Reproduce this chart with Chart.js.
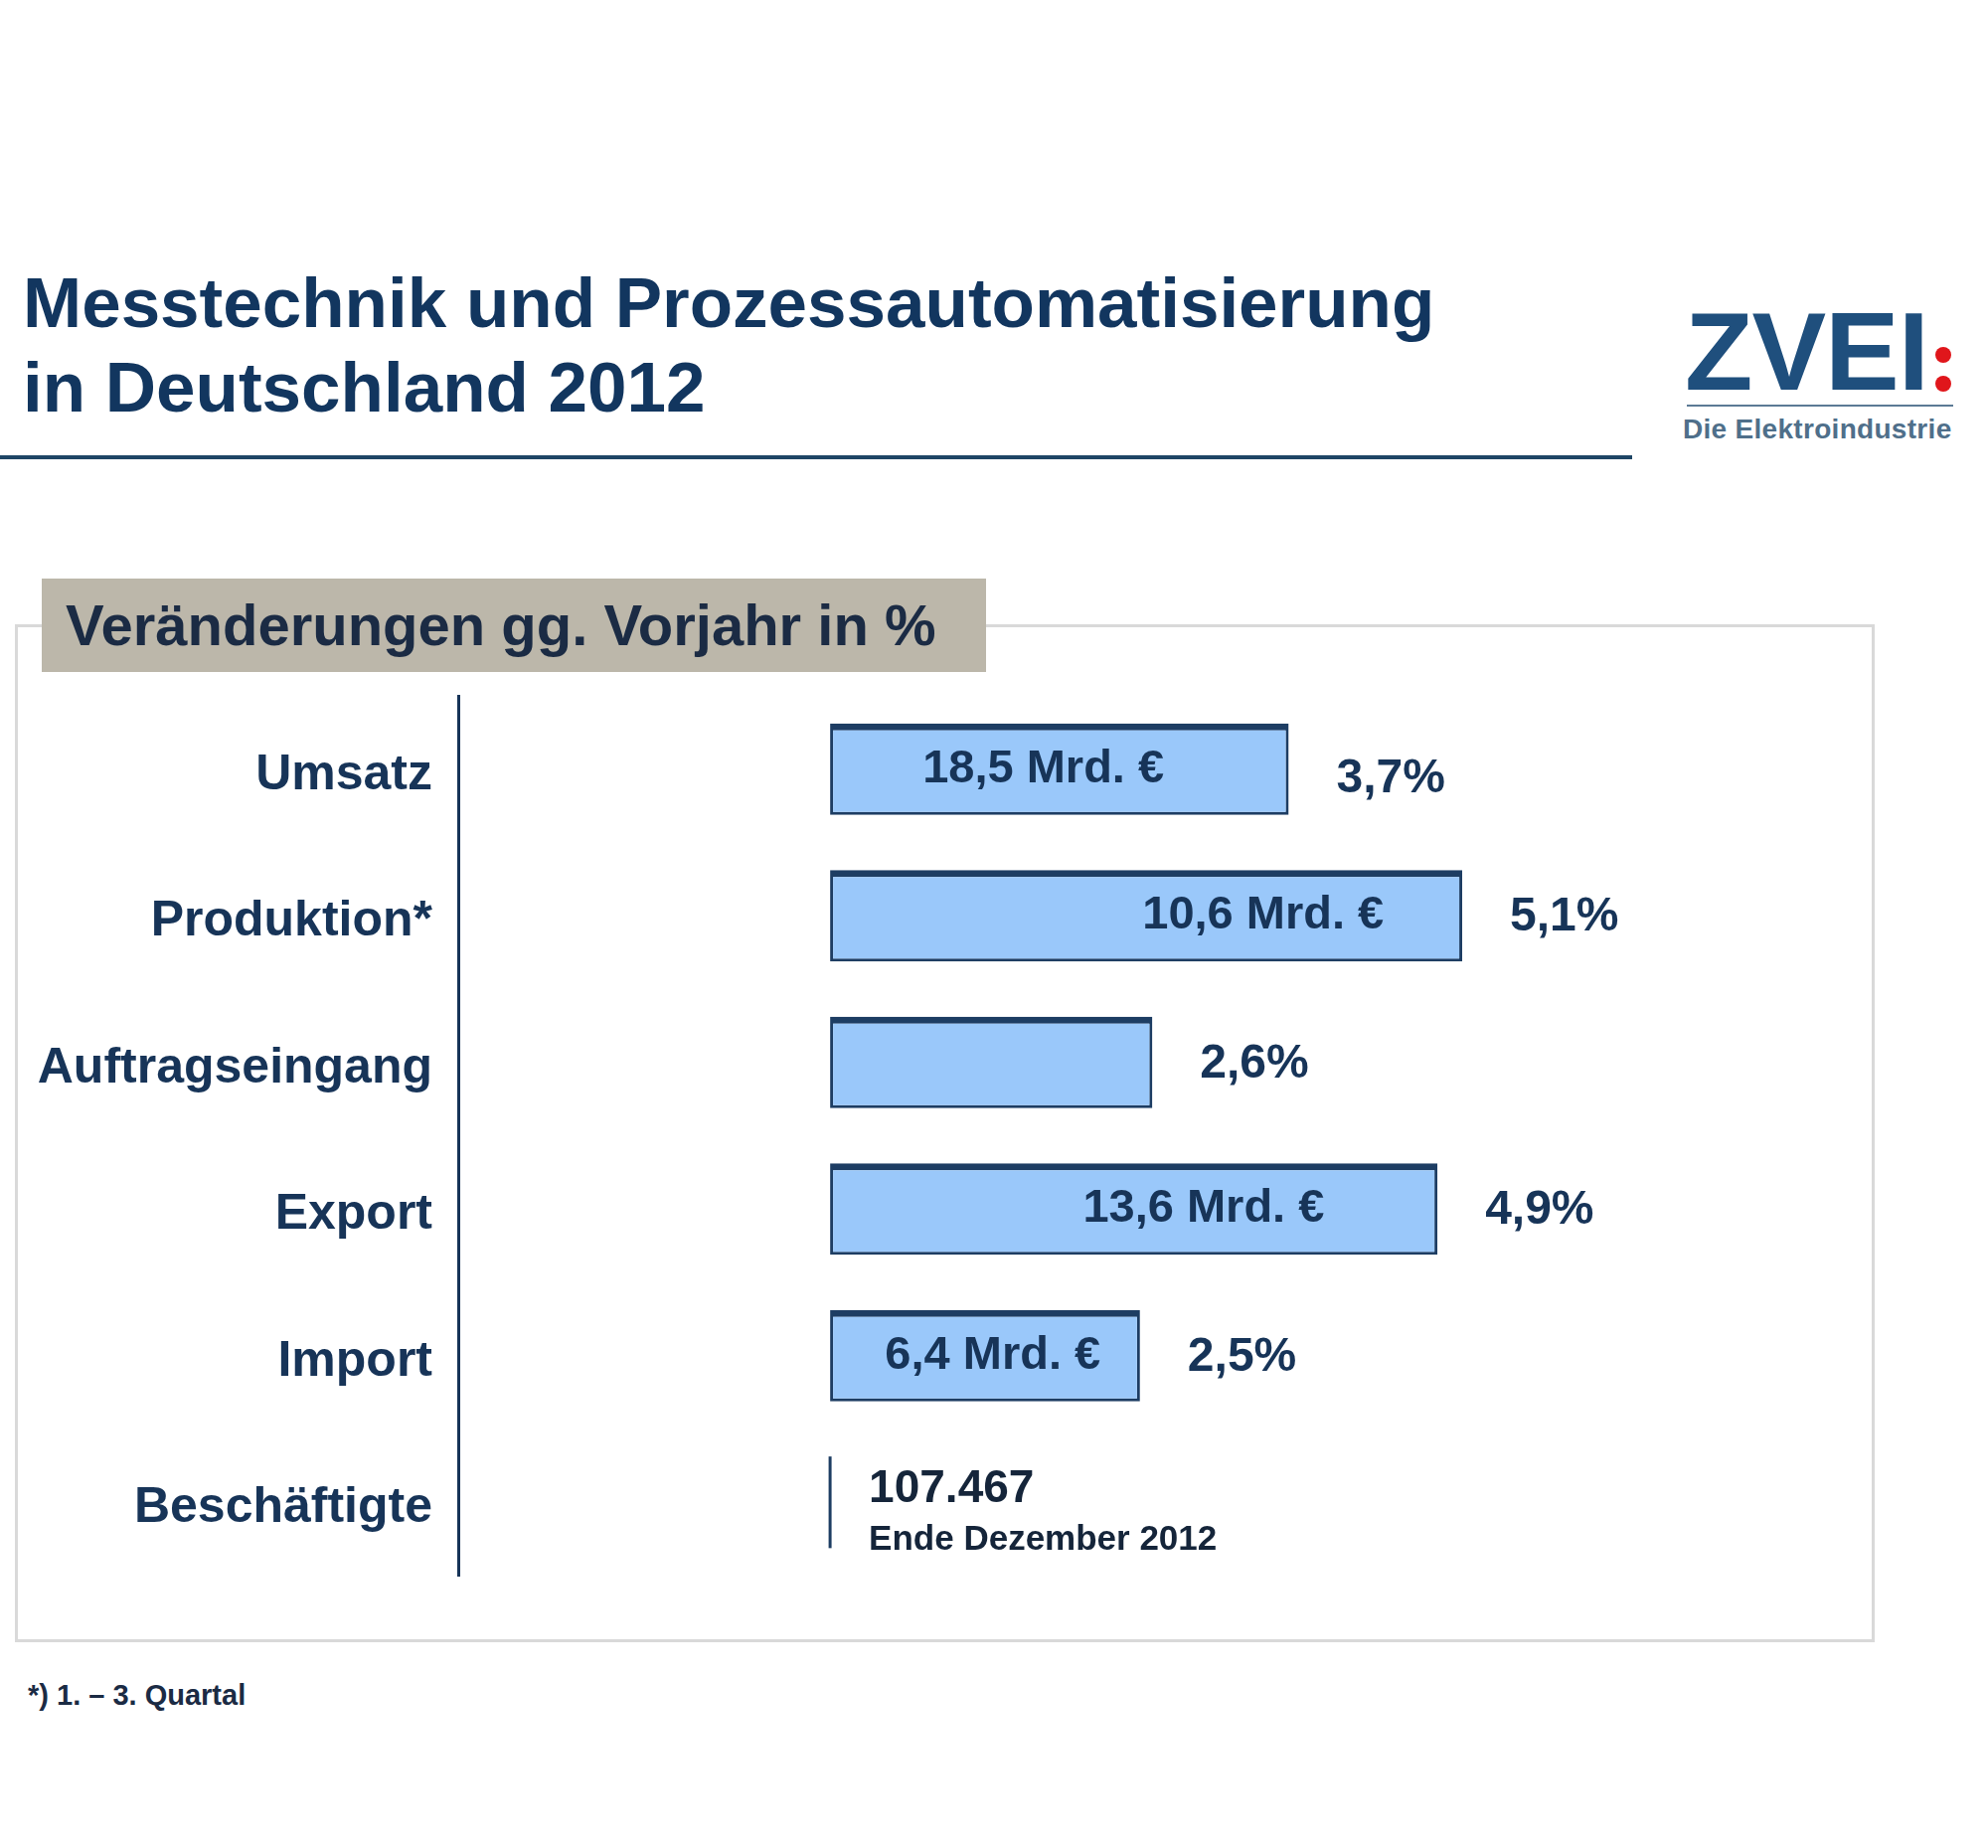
<!DOCTYPE html>
<html lang="de">
<head>
<meta charset="utf-8">
<title>Messtechnik und Prozessautomatisierung in Deutschland 2012</title>
<script src="https://cdn.jsdelivr.net/npm/chart.js@4.4.1/dist/chart.umd.min.js"></script>
<style>
  html, body { margin: 0; padding: 0; background: #fff; }
  body { width: 2000px; height: 1859px; position: relative; overflow: hidden;
         font-family: 'Liberation Sans', Arial, sans-serif; }
  .abs { position: absolute; }
  #title { left: 23px; top: 262px; font-size: 71px; line-height: 85px; font-weight: bold; color: #12365f; white-space: nowrap; }
  #rule { left: 0; top: 458px; width: 1642px; height: 4px; background: #1e4565; }
  #logo { left: 1695px; top: 298px; font-size: 112px; line-height: 112px; font-weight: bold; color: #1f4f7d; letter-spacing: -1px; }
  .dot { width: 16px; height: 16px; border-radius: 50%; background: #e0161b; }
  #logoLine { left: 1697px; top: 407px; width: 268px; height: 2px; background: #5c7a95; }
  #logoSub { left: 1693px; top: 418px; font-size: 28px; line-height: 28px; font-weight: bold; color: #4f6f8a; letter-spacing: 0.3px; }
  #frame { left: 15px; top: 628px; width: 1865px; height: 1018px; border: 3px solid #d9d9d9; }
  #header { left: 42px; top: 582px; width: 950px; height: 94px; background: #bcb7aa; }
  #header span { display: block; padding-left: 24px; font-size: 58px; line-height: 94px; font-weight: bold; color: #1b2b44; white-space: nowrap; }
  #note { left: 28px; top: 1691px; font-size: 29px; line-height: 29px; font-weight: bold; color: #1b2b44; }
  #chartBox { left: 0; top: 0; width: 2000px; height: 1859px; }
</style>
</head>
<body>
<div id="frame" class="abs"></div>
<div id="title" class="abs">Messtechnik und Prozessautomatisierung<br>in Deutschland 2012</div>
<div id="rule" class="abs"></div>
<div id="logo" class="abs">ZVEI</div>
<div class="abs dot" style="left:1947px; top:349px;"></div>
<div class="abs dot" style="left:1947px; top:378px;"></div>
<div id="logoLine" class="abs"></div>
<div id="logoSub" class="abs">Die Elektroindustrie</div>
<div id="header" class="abs"><span>Veränderungen gg. Vorjahr in %</span></div>
<div id="note" class="abs">*) 1. – 3. Quartal</div>
<div id="chartBox" class="abs"><canvas id="zveiChart" width="2000" height="1859"></canvas></div>

<script>
// categories and values (change vs. previous year, %)
const categories = ['Umsatz', 'Produktion*', 'Auftragseingang', 'Export', 'Import', 'Beschäftigte'];
const changePct = [3.7, 5.1, 2.6, 4.9, 2.5, null];
const volumeBn = [18.5, 10.6, null, 13.6, 6.4, null];
const employees = '107.467';
const employeesNote = 'Ende Dezember 2012';

// where the volume text sits inside each bar (fraction of bar length)
const volumeLabelAt = [0.465, 0.685, 0, 0.615, 0.525, 0];

const navy = '#173458';
const fontFamily = "'Liberation Sans', Arial, sans-serif";

function fmt(v) {
    return v.toFixed(1).replace('.', ',');
}

const barLabels = {
    id: 'barLabels',
    afterDatasetsDraw(chart) {
        const ctx = chart.ctx;
        const meta = chart.getDatasetMeta(0);
        const x0 = chart.scales.x.getPixelForValue(0);
        const barH = meta.data[0].height;

        ctx.save();
        ctx.textBaseline = 'middle';
        meta.data.forEach((bar, i) => {
            const v = changePct[i];
            if (v === null) return;
            // percent to the right of the bar
            ctx.fillStyle = navy;
            ctx.font = 'bold 48px ' + fontFamily;
            ctx.textAlign = 'left';
            ctx.fillText(fmt(v) + '%', bar.x + 48, bar.y + (i === 0 ? 10 : 2));
            // volume inside the bar
            if (volumeBn[i] !== null) {
                ctx.font = 'bold 47px ' + fontFamily;
                ctx.textAlign = 'center';
                ctx.fillText(fmt(volumeBn[i]) + ' Mrd. €', x0 + (bar.x - x0) * volumeLabelAt[i], bar.y);
            }
        });

        // employees row: thin marker line and text
        const yEmp = chart.scales.y.getPixelForValue(5);
        ctx.strokeStyle = '#1d3d63';
        ctx.lineWidth = 3;
        ctx.beginPath();
        ctx.moveTo(x0, yEmp - barH / 2);
        ctx.lineTo(x0, yEmp + barH / 2);
        ctx.stroke();

        ctx.textAlign = 'left';
        ctx.textBaseline = 'alphabetic';
        ctx.fillStyle = '#15253a';
        ctx.font = 'bold 46px ' + fontFamily;
        ctx.fillText(employees, x0 + 39, yEmp);
        ctx.font = 'bold 35px ' + fontFamily;
        ctx.fillText(employeesNote, x0 + 39, yEmp + 48);
        ctx.restore();
    }
};

const ctx = document.getElementById('zveiChart').getContext('2d');

new Chart(ctx, {
    type: 'bar',
    data: {
        labels: categories,
        datasets: [{
            label: 'Veränderung gg. Vorjahr in %',
            data: changePct,
            backgroundColor: '#9ac8fa',
            borderColor: '#1d3d63',
            borderWidth: { top: 7, right: 3, bottom: 3, left: 3 },
            borderSkipped: false,
            barPercentage: 0.625,
            categoryPercentage: 1
        }]
    },
    options: {
        indexAxis: 'y',
        responsive: false,
        animation: false,
        layout: {
            padding: { left: 0, top: 700, right: 292, bottom: 274 }
        },
        scales: {
            x: {
                display: false,
                min: -3,
                max: 7
            },
            y: {
                afterFit: scale => { scale.width = 461; },
                grid: { display: false, drawTicks: false, tickLength: 0 },
                border: { display: true, color: navy, width: 3 },
                ticks: {
                    color: navy,
                    padding: 26,
                    labelOffset: 6,
                    font: { size: 50, weight: 'bold', family: fontFamily }
                }
            }
        },
        plugins: {
            legend: { display: false },
            tooltip: { enabled: false }
        }
    },
    plugins: [barLabels]
});
</script>
</body>
</html>
